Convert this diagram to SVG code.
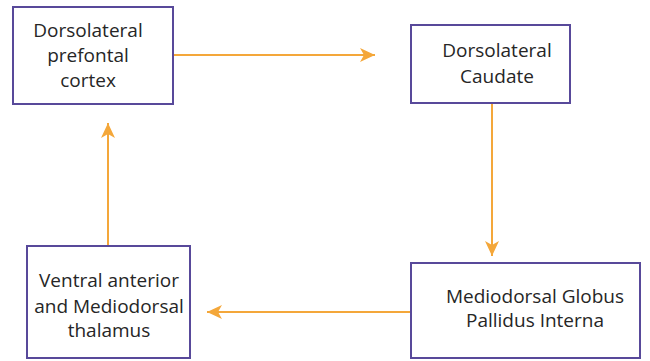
<svg xmlns="http://www.w3.org/2000/svg" width="650" height="361" viewBox="0 0 650 361">
<style>
.box{fill:#ffffff;stroke:#58499a;stroke-width:2}
.lbl{font-family:"Open Sans","Liberation Sans",sans-serif;font-size:19px;fill:#262626;text-anchor:middle}
.con{fill:none;stroke:#f4a73a;stroke-width:2}
</style>
<defs>
<marker id="ah" markerUnits="userSpaceOnUse" markerWidth="16" markerHeight="14" refX="15" refY="7" orient="auto">
<path d="M0,0 L15,7 L0,14 L4,7 z" fill="#f4a73a"/>
</marker>
</defs>
<rect width="650" height="361" fill="#ffffff"/>
<g id="connectors">
<line class="con" x1="174" y1="55" x2="375" y2="55" marker-end="url(#ah)"/>
<line class="con" x1="492" y1="104" x2="492" y2="256" marker-end="url(#ah)"/>
<line class="con" x1="410" y1="312" x2="207" y2="312" marker-end="url(#ah)"/>
<line class="con" x1="108" y1="245" x2="108" y2="123" marker-end="url(#ah)"/>
</g>
<g id="n1">
<rect class="box" x="13" y="7" width="160" height="97"/>
<text class="lbl" x="88" y="37">Dorsolateral</text>
<text class="lbl" x="88" y="62">prefontal</text>
<text class="lbl" x="88" y="87">cortex</text>
</g>
<g id="n2">
<rect class="box" x="411" y="25" width="159" height="78"/>
<text class="lbl" x="497" y="57">Dorsolateral</text>
<text class="lbl" x="497" y="83">Caudate</text>
</g>
<g id="n3">
<rect class="box" x="411" y="263" width="229" height="95"/>
<text class="lbl" x="535" y="303">Mediodorsal Globus</text>
<text class="lbl" x="535" y="327">Pallidus Interna</text>
</g>
<g id="n4">
<rect class="box" x="27" y="246" width="163" height="112"/>
<text class="lbl" x="109" y="287">Ventral anterior</text>
<text class="lbl" x="109" y="313">and Mediodorsal</text>
<text class="lbl" x="109" y="337">thalamus</text>
</g>
</svg>
